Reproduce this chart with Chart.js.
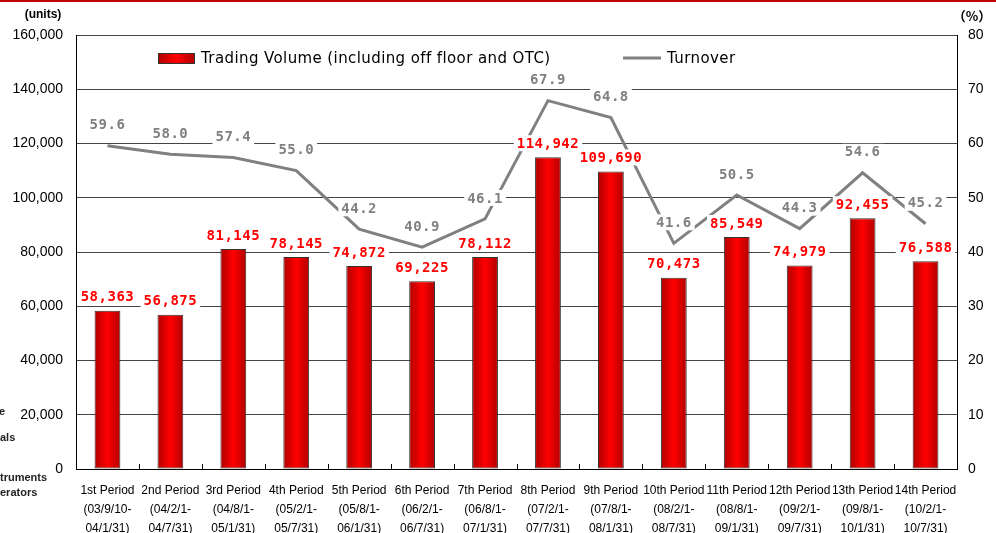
<!DOCTYPE html>
<html>
<head>
<meta charset="utf-8">
<script src="https://cdn.jsdelivr.net/npm/chart.js@4"></script>
<style>
  html, body { margin: 0; padding: 0; background: #fff; }
  #wrap { width: 996px; height: 533px; position: relative; }
</style>
</head>
<body>
<div id="wrap"><canvas id="chart"></canvas></div>
<script>
// Datos del gráfico
const periods = [
  ['1st Period', '(03/9/10-', '04/1/31)'],
  ['2nd Period', '(04/2/1-', '04/7/31)'],
  ['3rd Period', '(04/8/1-', '05/1/31)'],
  ['4th Period', '(05/2/1-', '05/7/31)'],
  ['5th Period', '(05/8/1-', '06/1/31)'],
  ['6th Period', '(06/2/1-', '06/7/31)'],
  ['7th Period', '(06/8/1-', '07/1/31)'],
  ['8th Period', '(07/2/1-', '07/7/31)'],
  ['9th Period', '(07/8/1-', '08/1/31)'],
  ['10th Period', '(08/2/1-', '08/7/31)'],
  ['11th Period', '(08/8/1-', '09/1/31)'],
  ['12th Period', '(09/2/1-', '09/7/31)'],
  ['13th Period', '(09/8/1-', '10/1/31)'],
  ['14th Period', '(10/2/1-', '10/7/31)']
];
const tradingVolume = [58363, 56875, 81145, 78145, 74872, 69225, 78112, 114942, 109690, 70473, 85549, 74979, 92455, 76588];
const turnover = [59.6, 58.0, 57.4, 55.0, 44.2, 40.9, 46.1, 67.9, 64.8, 41.6, 50.5, 44.3, 54.6, 45.2];
const volumeTicks = [0, 20000, 40000, 60000, 80000, 100000, 120000, 140000, 160000];
const turnoverTicks = [0, 10, 20, 30, 40, 50, 60, 70, 80];
const volumeLabel = 'Trading Volume (including off floor and OTC)';
const turnoverLabel = 'Turnover';
const leftFragments = ['e', 'als', 'truments', 'erators'];

const BAR_PCT = 0.82, CAT_PCT = 0.5;

// degradado horizontal de cada barra
function barGradient(ctx) {
  const chart = ctx.chart;
  const xs = chart.scales.x;
  if (ctx.type !== 'data' || !xs || !chart.chartArea) return '#e00000';
  const cx = xs.getPixelForValue(ctx.dataIndex);
  const half = xs.width / periods.length * BAR_PCT * CAT_PCT / 2;
  const g = chart.ctx.createLinearGradient(cx - half, 0, cx + half, 0);
  g.addColorStop(0, '#b00000');
  g.addColorStop(0.5, '#ff0000');
  g.addColorStop(1, '#b00000');
  return g;
}

function drawTag(ctx, text, x, y, color) {
  ctx.font = 'bold 14px "DejaVu Sans Mono", monospace';
  ctx.letterSpacing = '0.5px';
  const w = ctx.measureText(text).width;
  ctx.fillStyle = '#fff';
  ctx.fillRect(x - w / 2 - 3, y - 8, w + 6, 16);
  ctx.fillStyle = color;
  ctx.textAlign = 'center';
  ctx.textBaseline = 'middle';
  ctx.fillText(text, x, y + 1);
}

const decor = {
  id: 'decor',
  afterDatasetsDraw(chart) {
    const ctx = chart.ctx;
    ctx.save();
    // ticks interiores del eje X
    const xs = chart.scales.x;
    const a = chart.chartArea;
    ctx.strokeStyle = '#000';
    ctx.lineWidth = 1;
    for (let i = 1; i < periods.length; i++) {
      const x = Math.round(xs.left + i * xs.width / periods.length) + 0.5;
      ctx.beginPath();
      ctx.moveTo(x, a.bottom - 5);
      ctx.lineTo(x, a.bottom);
      ctx.stroke();
    }
    // etiquetas de valores
    chart.getDatasetMeta(0).data.forEach((el, i) => {
      drawTag(ctx, tradingVolume[i].toLocaleString('en-US'), el.x, el.y - 14, '#ff0000');
    });
    chart.getDatasetMeta(1).data.forEach((el, i) => {
      drawTag(ctx, turnover[i].toFixed(1), el.x, el.y - 21, '#808080');
    });
    ctx.restore();
  },
  afterDraw(chart) {
    const ctx = chart.ctx;
    ctx.save();
    // línea roja superior
    ctx.fillStyle = '#c00000';
    ctx.fillRect(0, 0, chart.width, 2);

    // títulos de ejes
    ctx.fillStyle = '#000';
    ctx.font = 'bold 12px "Liberation Sans", Arial';
    ctx.textAlign = 'center';
    ctx.textBaseline = 'middle';
    ctx.fillText('(units)', 43, 15);
    ctx.font = 'bold 13px "Noto Sans CJK JP"';
    ctx.fillText('（%）', 972, 16);

    // fragmentos de texto a la izquierda
    ctx.font = 'bold 11px "Liberation Sans", Arial';
    ctx.textAlign = 'left';
    ctx.fillStyle = '#222';
    const fy = [412, 438, 478, 493];
    leftFragments.forEach((t, i) => ctx.fillText(t, i === 0 ? -1 : 0, fy[i]));

    // leyenda
    const ly = 58;
    const g = ctx.createLinearGradient(158, 0, 195, 0);
    g.addColorStop(0, '#b00000');
    g.addColorStop(0.5, '#ff0000');
    g.addColorStop(1, '#b00000');
    ctx.fillStyle = g;
    ctx.fillRect(158, ly - 5, 37, 11);
    ctx.strokeStyle = '#333';
    ctx.lineWidth = 1;
    ctx.strokeRect(158.5, ly - 4.5, 36, 10);
    ctx.fillStyle = '#000';
    ctx.font = '15px "DejaVu Sans"';
    ctx.letterSpacing = '0.4px';
    ctx.fillText(volumeLabel, 201, ly + 1);
    ctx.strokeStyle = '#808080';
    ctx.lineWidth = 3;
    ctx.beginPath();
    ctx.moveTo(623, ly);
    ctx.lineTo(661, ly);
    ctx.stroke();
    ctx.fillText(turnoverLabel, 667, ly + 1);
    ctx.restore();
  }
};

const chart = new Chart(document.getElementById('chart'), {
  type: 'bar',
  data: {
    labels: periods,
    datasets: [{
      label: volumeLabel,
      data: tradingVolume,
      yAxisID: 'y',
      backgroundColor: barGradient,
      borderColor: '#333',
      borderWidth: 1,
      borderSkipped: false,
      barPercentage: BAR_PCT,
      categoryPercentage: CAT_PCT,
      order: 2
    }, {
      type: 'line',
      label: turnoverLabel,
      data: turnover,
      yAxisID: 'y1',
      borderColor: '#808080',
      borderWidth: 3,
      pointRadius: 0,
      tension: 0,
      order: 1
    }]
  },
  options: {
    responsive: true,
    maintainAspectRatio: false,
    animation: false,
    layout: { padding: { top: 35, left: 0, right: 0, bottom: 0 } },
    plugins: {
      legend: { display: false },
      tooltip: { enabled: false }
    },
    scales: {
      x: {
        afterFit: (s) => { s.height = 64; },
        grid: { display: true, drawOnChartArea: false, drawTicks: false },
        border: { color: '#000', width: 1 },
        ticks: {
          autoSkip: false,
          maxRotation: 0,
          padding: 12,
          color: '#000',
          font: { family: '"Liberation Sans", Arial', size: 12, lineHeight: 1.58 }
        }
      },
      y: {
        position: 'left',
        min: 0,
        max: 160000,
        afterFit: (s) => { s.width = 76; },
        afterBuildTicks: (s) => { s.ticks = volumeTicks.map(v => ({ value: v })); },
        grid: { color: '#444', drawTicks: false },
        border: { color: '#000', width: 1 },
        ticks: {
          padding: 13,
          color: '#000',
          font: { family: '"Liberation Sans", Arial', size: 14 },
          callback: (v) => v.toLocaleString('en-US')
        }
      },
      y1: {
        position: 'right',
        min: 0,
        max: 80,
        afterFit: (s) => { s.width = 39; },
        afterBuildTicks: (s) => { s.ticks = turnoverTicks.map(v => ({ value: v })); },
        grid: { drawOnChartArea: false, drawTicks: false },
        border: { color: '#000', width: 1 },
        ticks: {
          padding: 11,
          color: '#000',
          font: { family: '"Liberation Sans", Arial', size: 14 }
        }
      }
    }
  },
  plugins: [decor]
});
</script>
</body>
</html>
